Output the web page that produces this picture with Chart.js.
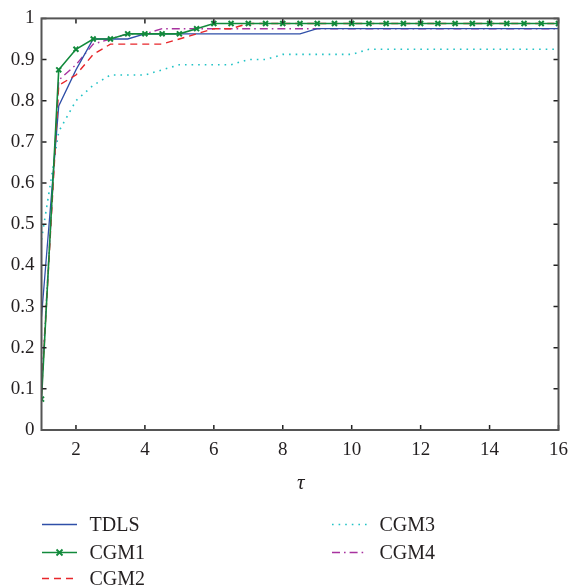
<!DOCTYPE html>
<html>
<head>
<meta charset="utf-8">
<script src="https://cdn.jsdelivr.net/npm/chart.js@4.4.1/dist/chart.umd.min.js"></script>
<style>
  html, body { margin: 0; padding: 0; background: #fff; }
  #wrap { position: relative; width: 577px; height: 588px; overflow: hidden; }
  #c { position: absolute; left: 0; top: 0; }
  .lbl { position: absolute; font-family: "Liberation Serif", "DejaVu Serif", serif; color: #231f20; white-space: nowrap; }
  .leg { position: absolute; font-family: "Liberation Serif", "DejaVu Serif", serif; font-size: 20px; color: #231f20; line-height: 20px; }
  .leg svg { position: absolute; left: 0; top: 0; }
  .leg span { position: absolute; left: 48px; top: 0; }
</style>
</head>
<body>
<div id="wrap">
  <canvas id="c" width="577" height="588"></canvas>
  <div class="lbl" id="tau" style="left:297px; top:470px; font-size:21px; font-style:italic;">τ</div>
  <div id="legend"></div>
</div>
<script>
// ---- data ----
const tau = [1, 1.5, 2, 2.5, 3, 3.5, 4, 4.5, 5, 5.5, 6, 6.5, 7, 7.5, 8, 8.5, 9, 9.5, 10, 10.5, 11, 11.5, 12, 12.5, 13, 13.5, 14, 14.5, 15, 15.5, 16];
const tdls = [0.275, 0.7875, 0.875, 0.95, 0.95, 0.95, 0.9625, 0.9625, 0.9625, 0.9625, 0.9625, 0.9625, 0.9625, 0.9625, 0.9625, 0.9625, 0.975, 0.975, 0.975, 0.975, 0.975, 0.975, 0.975, 0.975, 0.975, 0.975, 0.975, 0.975, 0.975, 0.975, 0.975];
const cgm1 = [0.075, 0.875, 0.925, 0.95, 0.95, 0.9625, 0.9625, 0.9625, 0.9625, 0.975, 0.9875, 0.9875, 0.9875, 0.9875, 0.9875, 0.9875, 0.9875, 0.9875, 0.9875, 0.9875, 0.9875, 0.9875, 0.9875, 0.9875, 0.9875, 0.9875, 0.9875, 0.9875, 0.9875, 0.9875, 0.9875];
const cgm2 = [0.0875, 0.8375, 0.8625, 0.9125, 0.9375, 0.9375, 0.9375, 0.9375, 0.95, 0.9625, 0.975, 0.975, 0.9875, 0.9875, 0.9875, 0.9875, 0.9875, 0.9875, 0.9875, 0.9875, 0.9875, 0.9875, 0.9875, 0.9875, 0.9875, 0.9875, 0.9875, 0.9875, 0.9875, 0.9875, 0.9875];
const cgm3 = [0.4625, 0.725, 0.8, 0.8375, 0.8625, 0.8625, 0.8625, 0.875, 0.8875, 0.8875, 0.8875, 0.8875, 0.9, 0.9, 0.9125, 0.9125, 0.9125, 0.9125, 0.9125, 0.925, 0.925, 0.925, 0.925, 0.925, 0.925, 0.925, 0.925, 0.925, 0.925, 0.925, 0.925];
const cgm4 = [0.1, 0.85, 0.8875, 0.9375, 0.95, 0.9625, 0.9625, 0.975, 0.975, 0.975, 0.975, 0.975, 0.975, 0.975, 0.975, 0.975, 0.975, 0.975, 0.975, 0.975, 0.975, 0.975, 0.975, 0.975, 0.975, 0.975, 0.975, 0.975, 0.975, 0.975, 0.975];
const xTicks = [2, 4, 6, 8, 10, 12, 14, 16];
const yTicks = [0, 0.1, 0.2, 0.3, 0.4, 0.5, 0.6, 0.7, 0.8, 0.9, 1];
const seriesNames = ["TDLS", "CGM1", "CGM2", "CGM3", "CGM4"];

// ---- styles ----
const styles = {
  TDLS: { color: "#2f4fa8", dash: [], width: 1.3, order: 3 },
  CGM1: { color: "#128a3c", dash: [], width: 1.6, order: 1, marker: true },
  CGM2: { color: "#e8262b", dash: [7, 5], width: 1.4, order: 2 },
  CGM3: { color: "#22c3c6", dash: [1.6, 5], width: 1.6, order: 5 },
  CGM4: { color: "#a8329f", dash: [8, 4, 1.6, 4], width: 1.4, order: 4 }
};
const values = { TDLS: tdls, CGM1: cgm1, CGM2: cgm2, CGM3: cgm3, CGM4: cgm4 };

const datasets = seriesNames.map(n => {
  const s = styles[n];
  return {
    label: n,
    data: tau.map((t, i) => ({ x: t, y: values[n][i] })),
    borderColor: s.color,
    backgroundColor: s.color,
    borderWidth: s.width,
    borderDash: s.dash,
    fill: false,
    tension: 0,
    order: s.order,
    pointStyle: 'crossRot',
    pointRadius: s.marker ? 3.5 : 0,
    pointBorderWidth: 2,
    pointBorderColor: s.color,
    pointHoverRadius: 0
  };
});

const fontFamily = '"Liberation Serif", "DejaVu Serif", serif';
const AREA = { left: 41.5, right: 566, top: 18, bottom: 430 };

const framePlugin = {
  id: 'frame',
  afterDatasetsDraw(chart) {
    const { ctx, chartArea: a, scales } = chart;
    ctx.save();
    ctx.strokeStyle = '#222';
    ctx.lineWidth = 1.5;
    const tl = 5;
    ctx.beginPath();
    xTicks.forEach(v => {
      const px = scales.x.getPixelForValue(v);
      ctx.moveTo(px, a.bottom); ctx.lineTo(px, a.bottom - tl);
      ctx.moveTo(px, a.top); ctx.lineTo(px, a.top + tl);
    });
    yTicks.forEach(v => {
      const py = scales.y.getPixelForValue(v);
      ctx.moveTo(a.left, py); ctx.lineTo(a.left + tl, py);
      ctx.moveTo(a.right, py); ctx.lineTo(a.right - tl, py);
    });
    ctx.stroke();
    ctx.strokeStyle = '#555';
    ctx.lineWidth = 2;
    ctx.strokeRect(a.left, a.top, a.right - a.left, a.bottom - a.top);
    ctx.restore();
  }
};

new Chart(document.getElementById('c'), {
  type: 'line',
  data: { datasets },
  options: {
    responsive: false,
    animation: false,
    events: [],
    layout: { padding: { left: 0, right: 577 - AREA.right, top: AREA.top, bottom: 0 } },
    plugins: { legend: { display: false }, tooltip: { enabled: false } },
    scales: {
      x: {
        type: 'linear',
        min: 1, max: 16,
        grid: { display: false, drawTicks: false },
        border: { display: false },
        afterBuildTicks: s => { s.ticks = xTicks.map(v => ({ value: v })); },
        afterFit: s => { s.height = 588 - AREA.bottom; },
        ticks: { color: '#231f20', font: { family: fontFamily, size: 19 }, padding: 9, maxRotation: 0, autoSkip: false }
      },
      y: {
        type: 'linear',
        min: 0, max: 1,
        grid: { display: false, drawTicks: false },
        border: { display: false },
        afterBuildTicks: s => { s.ticks = yTicks.map(v => ({ value: v })); },
        afterFit: s => { s.width = AREA.left; },
        ticks: { color: '#231f20', font: { family: fontFamily, size: 19 }, padding: 7,
                 callback: v => String(Math.round(v * 10) / 10) }
      }
    }
  },
  plugins: [framePlugin]
});

// ---- legend (two columns, column-major like the reference) ----
const legendPos = {
  TDLS: [41.5, 514], CGM1: [41.5, 542], CGM2: [41.5, 568],
  CGM3: [331.5, 514], CGM4: [331.5, 542]
};
const leg = document.getElementById('legend');
seriesNames.forEach(n => {
  const s = styles[n];
  const [lx, ly] = legendPos[n];
  const d = document.createElement('div');
  d.className = 'leg';
  d.style.left = lx + 'px';
  d.style.top = ly + 'px';
  d.style.width = '140px';
  d.style.height = '24px';
  let svg = `<svg width="36" height="20"><line x1="0" y1="10.5" x2="35" y2="10.5" stroke="${s.color}" stroke-width="${s.width}" stroke-dasharray="${s.dash.length ? s.dash.join(',') : 'none'}"/>`;
  if (s.marker) svg += `<path d="M14.5 7.5 L20.5 13.5 M20.5 7.5 L14.5 13.5" stroke="${s.color}" stroke-width="1.8"/>`;
  svg += `</svg>`;
  d.innerHTML = svg + `<span>${n}</span>`;
  leg.appendChild(d);
});
</script>
</body>
</html>
